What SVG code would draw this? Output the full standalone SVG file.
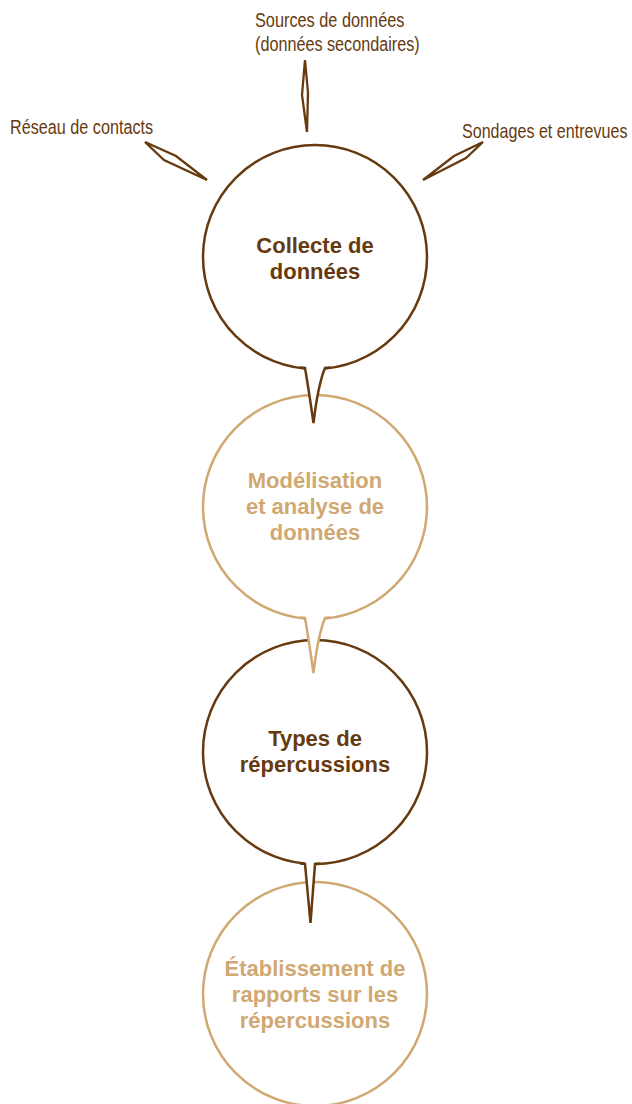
<svg xmlns="http://www.w3.org/2000/svg" width="632" height="1104" viewBox="0 0 632 1104">
<style>
.bg{fill:#ffffff}
.dk{fill:#ffffff;stroke:#663a0e;stroke-width:2.5}
.lt{fill:#ffffff;stroke:#d0a872;stroke-width:2.5}
.tf{fill:#ffffff;stroke:none}
.tdk{fill:none;stroke:#663a0e;stroke-width:2.5;stroke-linejoin:miter}
.tlt{fill:none;stroke:#d0a872;stroke-width:2.5;stroke-linejoin:miter}
.sp{fill:#ffffff;stroke:#663a0e;stroke-width:2.3;stroke-linejoin:miter}
.lbl{font-family:"Liberation Sans",Arial,sans-serif;font-size:20px;fill:#663a0e}
.hd{font-family:"Liberation Sans",Arial,sans-serif;font-weight:bold;font-size:22px;text-anchor:middle}
.hdk{fill:#663a0e}
.hlt{fill:#d0a872}
</style>
<rect class="bg" x="0" y="0" width="632" height="1104"/>
<g id="connectors">
<polygon class="sp" points="305,60 302,95 307,132 308,93"/>
<polygon class="sp" points="145,142 164,160 207,180 176,156"/>
<polygon class="sp" points="483,142 454,156 423,180 466,158"/>
</g>
<g id="node-collecte">
<circle class="dk" cx="315" cy="257" r="112"/>
</g>
<g id="node-modelisation">
<circle class="lt" cx="315" cy="507" r="112"/>
</g>
<g id="node-types">
<circle class="dk" cx="315" cy="752" r="112"/>
</g>
<g id="node-etablissement">
<circle class="lt" cx="315" cy="994" r="112"/>
</g>
<g id="tails">
<path class="tf" d="M304,364 L305,368 Q308,385 313.5,423 Q318,385 325,368 L326,364 Z"/>
<path class="tdk" d="M300,367.5 L305,368 Q308,385 313.5,423 Q318,385 325,368 L330,367.5"/>
<path class="tf" d="M304,614 L305,618 Q308,635 313.5,673 Q318,635 325,618 L326,614 Z"/>
<path class="tlt" d="M300,617.5 L305,618 Q308,635 313.5,673 Q318,635 325,618 L330,617.5"/>
<path class="tf" d="M304,860 L305,864 L310.5,923 L315,864 L316,860 Z"/>
<path class="tdk" d="M300,863.5 L305,864 L310.5,923 L315,864 L320,863.8"/>
</g>
<g id="labels">
<text class="lbl" transform="translate(255,27) scale(0.815,1)">Sources de données</text>
<text class="lbl" transform="translate(255,51) scale(0.81,1)">(données secondaires)</text>
<text class="lbl" transform="translate(10,134) scale(0.81,1)">Réseau de contacts</text>
<text class="lbl" transform="translate(462,138) scale(0.805,1)">Sondages et entrevues</text>
</g>
<g id="node-texts">
<text class="hd hdk" x="315" y="253">Collecte de</text>
<text class="hd hdk" x="315" y="279">données</text>
<text class="hd hlt" x="315" y="488">Modélisation</text>
<text class="hd hlt" x="315" y="514">et analyse de</text>
<text class="hd hlt" x="315" y="540">données</text>
<text class="hd hdk" x="315" y="746">Types de</text>
<text class="hd hdk" x="315" y="772">répercussions</text>
<text class="hd hlt" x="315" y="976">Établissement de</text>
<text class="hd hlt" x="315" y="1002">rapports sur les</text>
<text class="hd hlt" x="315" y="1028">répercussions</text>
</g>
</svg>
